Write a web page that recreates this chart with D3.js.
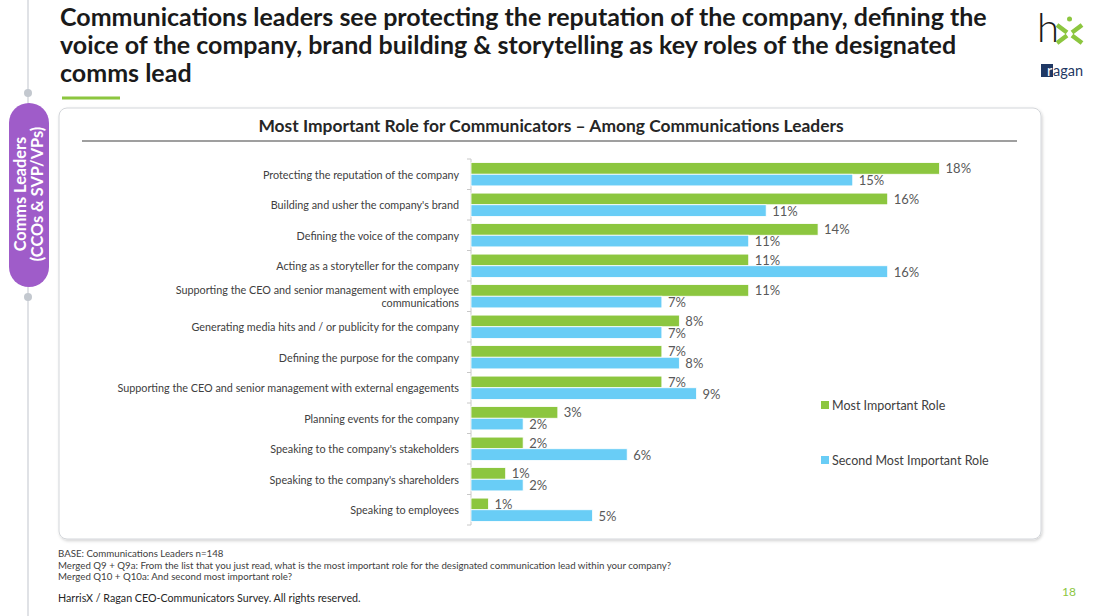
<!DOCTYPE html>
<html>
<head>
<meta charset="utf-8">
<script src="https://cdn.jsdelivr.net/npm/d3@7"></script>
<style>
  html, body { margin: 0; padding: 0; background: #ffffff; }
  svg { display: block; }
  text { font-family: Lato, "Open Sans", sans-serif; }
</style>
</head>
<body>
<svg id="chart" width="1102" height="616"></svg>
<script>
// ---------------- DATA ----------------
const categories = [
  "Protecting the reputation of the company",
  "Building and usher the company's brand",
  "Defining the voice of the company",
  "Acting as a storyteller for the company",
  "Supporting the CEO and senior management with employee communications",
  "Generating media hits and / or publicity for the company",
  "Defining the purpose for the company",
  "Supporting the CEO and senior management with external engagements",
  "Planning events for the company",
  "Speaking to the company's stakeholders",
  "Speaking to the company's shareholders",
  "Speaking to employees"
];
const mostImportant = [18.24, 16.22, 13.51, 10.81, 10.81, 8.11, 7.43, 7.43, 3.38, 2.03, 1.35, 0.68];
const secondMost    = [14.86, 11.49, 10.81, 16.22, 7.43, 7.43, 8.11, 8.78, 2.03, 6.08, 2.03, 4.73];
const seriesNames = ["Most Important Role", "Second Most Important Role"];
const seriesColors = ["#8cc63f", "#69cdf6"];

const titleLines = [
  "Communications leaders see protecting the reputation of the company, defining the",
  "voice of the company, brand building & storytelling as key roles of the designated",
  "comms lead"
];
const chartTitle = "Most Important Role for Communicators \u2013 Among Communications Leaders";
const pillLines = ["Comms Leaders", "(CCOs & SVP/VPs)"];
const notes = [
  "BASE: Communications Leaders n=148",
  "Merged Q9 + Q9a: From the list that you just read, what is the most important role for the designated communication lead within your company?",
  "Merged Q10 + Q10a: And second most important role?"
];
const copyright = "HarrisX / Ragan CEO-Communicators Survey. All rights reserved.";
const pageNumber = "18";

// ---------------- DRAW ----------------
const svg = d3.select("#chart");

const defs = svg.append("defs");
const f = defs.append("filter").attr("id", "shadow").attr("x", "-5%").attr("y", "-5%").attr("width", "110%").attr("height", "110%");
f.append("feDropShadow").attr("dx", 1).attr("dy", 1.5).attr("stdDeviation", 1.5).attr("flood-color", "#000").attr("flood-opacity", 0.18);

// left timeline
svg.append("line").attr("x1", 28).attr("x2", 28).attr("y1", 0).attr("y2", 616)
  .attr("stroke", "#d6d9de").attr("stroke-width", 1.5);
[93, 297].forEach(cy => svg.append("circle").attr("cx", 28).attr("cy", cy).attr("r", 4).attr("fill", "#c3c8cf"));
svg.append("rect").attr("x", 9).attr("y", 103).attr("width", 40).attr("height", 184).attr("rx", 20)
  .attr("fill", "#9f5cc9");
const pill = svg.append("g").attr("transform", "translate(29,194) rotate(-90)");
pill.selectAll("text").data(pillLines).join("text")
  .attr("x", 0).attr("y", (d, i) => i === 0 ? -3 : 13.5)
  .attr("text-anchor", "middle")
  .attr("fill", "#ffffff").attr("font-weight", 700).attr("font-size", 16.3)
  .text(d => d);

// page title
svg.append("g").selectAll("text").data(titleLines).join("text")
  .attr("x", 60).attr("y", (d, i) => 26 + i * 28)
  .attr("fill", "#1a1a1a").attr("font-weight", 700).attr("font-size", 25)
  .text(d => d);
svg.append("rect").attr("x", 62).attr("y", 96.5).attr("width", 58).attr("height", 3).attr("fill", "#8cc63f");

// logo
svg.append("text").attr("x", 1037).attr("y", 42).attr("font-size", 40).attr("font-weight", 300)
  .attr("fill", "#1a1a1a").text("h");
const lx = svg.append("g").attr("stroke", "#8cc63f").attr("stroke-width", 4.5).attr("stroke-linecap", "butt");
lx.append("line").attr("x1", 1057).attr("y1", 25).attr("x2", 1067).attr("y2", 32.5);
lx.append("line").attr("x1", 1082).attr("y1", 25).attr("x2", 1072).attr("y2", 32.5);
lx.append("line").attr("x1", 1057).attr("y1", 43).attr("x2", 1067).attr("y2", 35.5);
lx.append("line").attr("x1", 1082).attr("y1", 43).attr("x2", 1072).attr("y2", 35.5);
svg.append("circle").attr("cx", 1069.5).attr("cy", 19).attr("r", 2.5).attr("fill", "#8cc63f");
svg.append("rect").attr("x", 1041).attr("y", 64).attr("width", 12).attr("height", 13).attr("fill", "#1f3864");
svg.append("text").attr("x", 1047).attr("y", 76).attr("font-size", 14.5).attr("fill", "#ffffff").text("r");
svg.append("text").attr("x", 1053).attr("y", 76).attr("font-size", 14.5).attr("fill", "#1f3864").text("agan");

// panel
svg.append("rect").attr("x", 59).attr("y", 108).attr("width", 982).attr("height", 431).attr("rx", 8)
  .attr("fill", "#ffffff").attr("stroke", "#d3d6da").attr("stroke-width", 1).attr("filter", "url(#shadow)");

// chart title
svg.append("text").attr("x", 551).attr("y", 132).attr("text-anchor", "middle")
  .attr("font-weight", 700).attr("font-size", 17.4).attr("fill", "#262626").text(chartTitle);
svg.append("line").attr("x1", 82).attr("x2", 1017).attr("y1", 141).attr("y2", 141)
  .attr("stroke", "#7f7f7f").attr("stroke-width", 1.6);

// scales
const x = d3.scaleLinear().domain([0, 20]).range([471, 471 + 513.8]);
const y = d3.scaleBand().domain(categories).range([159, 525]).paddingInner(0).paddingOuter(0);
const ySub = d3.scaleBand().domain(seriesNames).range([3.6, y.bandwidth() - 3.6]).padding(0);

const rows = categories.map((c, i) => ({ cat: c, vals: [mostImportant[i], secondMost[i]] }));

// axis line + boundary ticks
const axisG = svg.append("g");
axisG.append("line").attr("x1", x(0)).attr("x2", x(0)).attr("y1", y.range()[0]).attr("y2", y.range()[1])
  .attr("stroke", "#c8c8c8").attr("stroke-width", 1);
const bounds = categories.map(c => y(c)).concat([y.range()[1]]);
axisG.selectAll("line.tick").data(bounds).join("line").attr("class", "tick")
  .attr("x1", x(0) - 4).attr("x2", x(0)).attr("y1", d => d).attr("y2", d => d)
  .attr("stroke", "#c8c8c8").attr("stroke-width", 1);

// category labels
const labelG = svg.append("g");
rows.forEach((r, i) => {
  const cy = y(r.cat) + y.bandwidth() / 2;
  const t = labelG.append("text").attr("x", 459).attr("text-anchor", "end")
    .attr("font-size", 10.8).attr("fill", "#404040");
  if (r.cat.length > 68) {
    const words = r.cat.split(" ");
    const l1 = words.slice(0, -1).join(" ");
    const l2 = words[words.length - 1];
    t.append("tspan").attr("x", 459).attr("y", cy - 6.5).attr("dominant-baseline", "central").text(l1);
    t.append("tspan").attr("x", 459).attr("y", cy + 6.5).attr("dominant-baseline", "central").text(l2);
  } else {
    t.attr("y", cy).attr("dominant-baseline", "central").text(r.cat);
  }
});

// bars
const groups = svg.append("g").selectAll("g").data(rows).join("g")
  .attr("transform", d => `translate(0,${y(d.cat)})`);
groups.selectAll("rect").data(d => d.vals.map((v, k) => ({ v, k }))).join("rect")
  .attr("x", x(0))
  .attr("y", d => ySub(seriesNames[d.k]))
  .attr("width", d => x(d.v) - x(0))
  .attr("height", ySub.bandwidth())
  .attr("fill", d => seriesColors[d.k])
  .attr("stroke", "#ffffff").attr("stroke-width", 0.8);
groups.selectAll("text").data(d => d.vals.map((v, k) => ({ v, k }))).join("text")
  .attr("x", d => x(d.v) + 6)
  .attr("y", d => ySub(seriesNames[d.k]) + ySub.bandwidth() / 2)
  .attr("dominant-baseline", "central")
  .attr("font-size", 13).attr("fill", "#595959")
  .text(d => Math.round(d.v) + "%");

// legend
const legend = svg.append("g");
const legendY = [405, 460];
seriesNames.forEach((s, k) => {
  legend.append("rect").attr("x", 821).attr("y", legendY[k] - 4).attr("width", 8).attr("height", 8).attr("fill", seriesColors[k]);
  legend.append("text").attr("x", 832).attr("y", legendY[k]).attr("dominant-baseline", "central")
    .attr("font-size", 12.5).attr("fill", "#404040").text(s);
});

// notes
svg.append("g").selectAll("text").data(notes).join("text")
  .attr("x", 58).attr("y", (d, i) => 557 + i * 11.5)
  .attr("font-size", 9.7).attr("fill", "#404040").text(d => d);
svg.append("text").attr("x", 58).attr("y", 602).attr("font-size", 10.7).attr("fill", "#262626").text(copyright);
svg.append("text").attr("x", 1062).attr("y", 596).attr("font-size", 12).attr("fill", "#8cc63f").text(pageNumber);
</script>
</body>
</html>
